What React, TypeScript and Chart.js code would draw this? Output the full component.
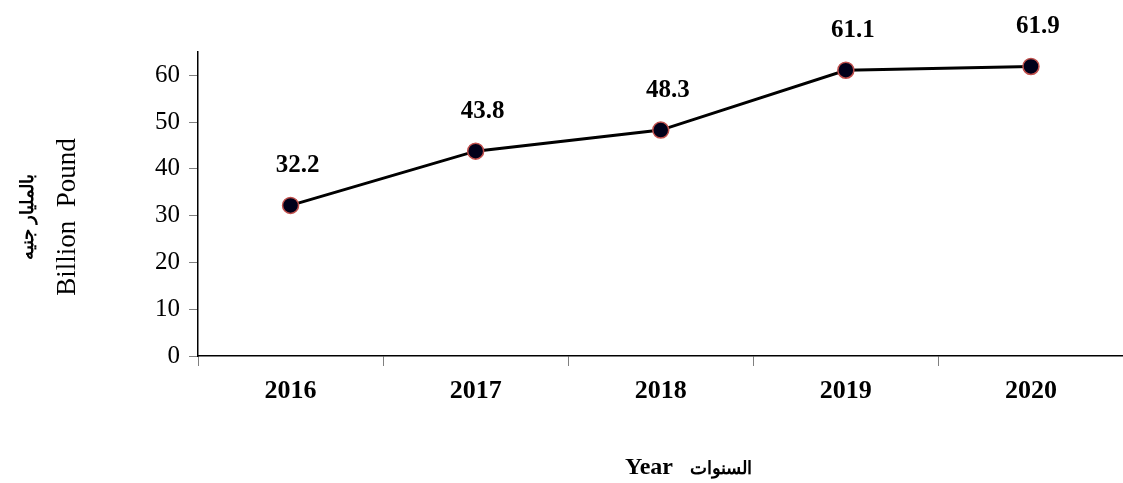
import React, { useEffect, useRef } from "react";
import { Chart, registerables } from "chart.js";

Chart.register(...registerables);

const years = ["2016", "2017", "2018", "2019", "2020"];
const values = [32.2, 43.8, 48.3, 61.1, 61.9];
const yTicks = [0, 10, 20, 30, 40, 50, 60];
const yTitleArabic = "بالمليار جنيه";
const yTitleEnglish = "Billion  Pound";
const xTitleEnglish = "Year";
const xTitleArabic = "السنوات";

const SERIF = "'Liberation Serif', 'Times New Roman', serif";

export default function App() {
  const ref = useRef<HTMLCanvasElement | null>(null);

  useEffect(() => {
    if (!ref.current) return;
    const textPlugin = {
      id: "texts",
      afterDraw(chart: any) {
        const ctx = chart.ctx;
        const meta = chart.getDatasetMeta(0);
        ctx.save();
        ctx.fillStyle = "#000";
        ctx.textAlign = "center";
        ctx.textBaseline = "middle";
        ctx.font = `bold 25px ${SERIF}`;
        meta.data.forEach((pt: any, i: number) => {
          ctx.fillText(values[i].toFixed(1), pt.x + 7, pt.y - 40);
        });
        const area = chart.chartArea;
        const cy = 217;
        // y-axis titles (rotated)
        ctx.save();
        ctx.translate(28, cy);
        ctx.rotate(-Math.PI / 2);
        ctx.font = `bold 18px ${SERIF}`;
        ctx.fillText(yTitleArabic, 0, 0);
        ctx.restore();
        ctx.save();
        ctx.translate(75, cy);
        ctx.rotate(-Math.PI / 2);
        ctx.textBaseline = "alphabetic";
        ctx.font = `27px ${SERIF}`;
        ctx.fillText(yTitleEnglish, 0, 0);
        ctx.restore();
        // x-axis title
        ctx.textAlign = "left";
        ctx.textBaseline = "alphabetic";
        ctx.font = `bold 24px ${SERIF}`;
        ctx.fillText(xTitleEnglish, 625, 474);
        ctx.font = `bold 18px ${SERIF}`;
        ctx.fillText(xTitleArabic, 690, 474);
        ctx.restore();
      },
    };

    const chart = new Chart(ref.current, {
      type: "line",
      data: {
        labels: years,
        datasets: [
          {
            data: values,
            borderColor: "#000000",
            borderWidth: 3,
            pointRadius: 8,
            pointHoverRadius: 8,
            pointBackgroundColor: "#00001a",
            pointBorderColor: "#C0504D",
            pointBorderWidth: 1.5,
            tension: 0,
          },
        ],
      },
      options: {
        animation: false,
        responsive: false,
        devicePixelRatio: 1,
        layout: { padding: { top: 52, left: 0, right: 0, bottom: 0 } },
        plugins: {
          legend: { display: false },
          tooltip: { enabled: false },
        },
        scales: {
          x: {
            offset: true,
            grid: {
              offset: true,
              drawOnChartArea: false,
              tickLength: 10,
              tickColor: "#808080",
              tickWidth: 1,
            },
            border: { display: true, color: "#000000", width: 1.5 },
            ticks: {
              color: "#000000",
              font: { family: SERIF, size: 26, weight: "bold" },
              padding: 10,
              maxRotation: 0,
            },
            afterFit(scale: any) {
              scale.height = 127;
            },
          },
          y: {
            min: 0,
            max: 65,
            ticks: {
              stepSize: 10,
              color: "#000000",
              font: { family: SERIF, size: 25 },
              padding: 9,
            },
            afterBuildTicks(scale: any) {
              scale.ticks = yTicks.map((v) => ({ value: v }));
            },
            grid: {
              drawOnChartArea: false,
              tickLength: 9,
              tickColor: "#808080",
              tickWidth: 1,
            },
            border: { display: true, color: "#000000", width: 1.5 },
            afterFit(scale: any) {
              scale.width = 198;
            },
          },
        },
      },
      plugins: [textPlugin],
    } as any);
    return () => chart.destroy();
  }, []);

  return (
    <div
      style={{
        position: "fixed",
        left: 0,
        top: 0,
        width: 1123,
        height: 483,
        overflow: "hidden",
        background: "#fff",
      }}
    >
      <canvas ref={ref} width={1133} height={483} style={{ width: 1133, height: 483, display: "block" }} />
    </div>
  );
}
